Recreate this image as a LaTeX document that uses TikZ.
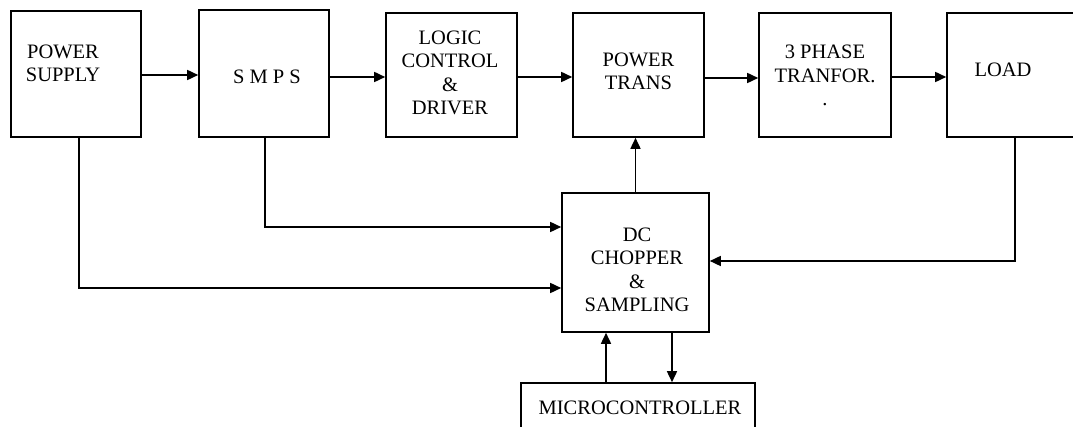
\documentclass[tikz,border=0pt]{standalone}
\usepackage{fontspec}
\setmainfont{Liberation Serif}
\usetikzlibrary{arrows.meta}
\begin{document}
\begin{tikzpicture}[x=1pt,y=-1pt,
  box/.style={draw, line width=1.6pt, rectangle, inner sep=0pt},
  txt/.style={font=\fontsize{20.5}{23.4}\selectfont, align=center, inner sep=0pt},
  conn/.style={line width=1.6pt, -{Triangle[length=11pt,width=10pt]}},
  wire/.style={line width=1.6pt}]
\useasboundingbox (0,0) rectangle (1073,427);
\clip (0,0) rectangle (1073,427);
% boxes
\node[box, minimum width=130pt, minimum height=126pt,
  label={[txt,xshift=-13pt,yshift=10.5pt]center:POWER\\SUPPLY}] (ps) at (76,74) {};
\node[box, minimum width=130pt, minimum height=127pt,
  label={[txt,xshift=3pt,yshift=-3.5pt]center:S M P S}] (smps) at (264,73.5) {};
\node[box, minimum width=131pt, minimum height=124pt,
  label={[txt,xshift=-1.5pt,yshift=2pt]center:LOGIC\\CONTROL\\\&\\DRIVER}] (logic) at (451.5,75) {};
\node[box, minimum width=131pt, minimum height=124pt,
  label={[txt,yshift=3.5pt]center:POWER\\TRANS}] (pt) at (638.5,75) {};
\node[box, minimum width=132pt, minimum height=124pt,
  label={[txt,yshift=-0.5pt]center:3 PHASE\\TRANFOR.\\.}] (tph) at (825,75) {};
\node[box, minimum width=143pt, minimum height=124pt,
  label={[txt,xshift=-15.5pt,yshift=5pt]center:LOAD}] (load) at (1018.5,75) {};
\node[box, minimum width=147pt, minimum height=139pt,
  label={[txt,xshift=1.5pt,yshift=-7.5pt]center:DC\\CHOPPER\\\&\\SAMPLING}] (dc) at (635.5,262.5) {};
\node[box, minimum width=234pt, minimum height=60pt,
  label={[txt,xshift=2pt,yshift=5pt]center:MICROCONTROLLER}] (mc) at (638,413) {};
% top row connectors
\draw[conn] ([yshift=-1pt]ps.east) -- ([yshift=-1pt]ps.east -| smps.west);
\draw[conn] ([yshift=-3.5pt]smps.east) -- ([yshift=-3.5pt]smps.east -| logic.west);
\draw[conn] ([yshift=-2pt]logic.east) -- ([yshift=-2pt]logic.east -| pt.west);
\draw[conn] ([yshift=-3pt]pt.east) -- ([yshift=-3pt]pt.east -| tph.west);
\draw[conn] ([yshift=-2pt]tph.east) -- ([yshift=-2pt]tph.east -| load.west);
% feedback / feed connectors
\draw[conn] (dc.north) -- (dc.north |- pt.south);
\coordinate (s1) at ([xshift=1pt]smps.south);
\coordinate (d1) at ([yshift=35.5pt]dc.west);
\draw[conn] (s1) |- (d1);
\coordinate (p1) at ([xshift=3pt]ps.south);
\coordinate (d2) at ([yshift=-25.5pt]dc.west);
\draw[conn] (p1) |- (d2);
\coordinate (l1) at ([xshift=-3.5pt]load.south);
\coordinate (d3) at ([yshift=1.5pt]dc.east);
\draw[conn] (l1) |- (d3);
\coordinate (u1) at ([xshift=-29.5pt]dc.south);
\draw[conn] (u1 |- mc.north) -- (u1);
\coordinate (u2) at ([xshift=36.5pt]dc.south);
\draw[conn] (u2) -- (u2 |- mc.north);
\end{tikzpicture}
\end{document}
